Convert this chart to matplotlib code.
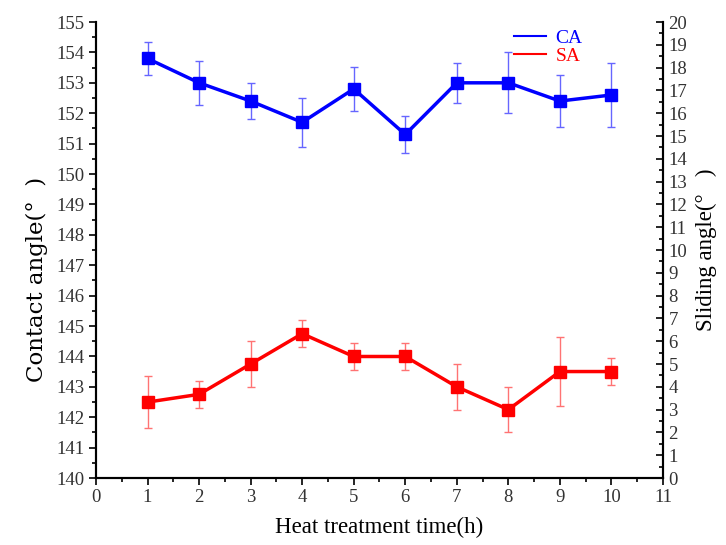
import matplotlib
matplotlib.use('Agg')
import matplotlib.pyplot as plt
from matplotlib.ticker import MultipleLocator

# Data
hours = [1, 2, 3, 4, 5, 6, 7, 8, 9, 10]
ca = [153.8, 153.0, 152.4, 151.7, 152.8, 151.3, 153.0, 153.0, 152.4, 152.6]
ca_err = [0.53, 0.73, 0.6, 0.8, 0.72, 0.6, 0.65, 1.0, 0.86, 1.06]
sa = [3.33, 3.67, 5.0, 6.33, 5.33, 5.33, 4.0, 3.0, 4.67, 4.67]
sa_err = [1.15, 0.58, 1.0, 0.58, 0.58, 0.58, 1.0, 1.0, 1.53, 0.58]

plt.rcParams['font.family'] = ['Liberation Serif', 'DejaVu Serif']

fig = plt.figure(figsize=(7.26, 5.45), dpi=100)
ax = fig.add_axes([0.1322, 0.1229, 0.7810, 0.8367])
ax2 = ax.twinx()

# Contact angle on left axis
ax.errorbar(hours, ca, yerr=ca_err, fmt='none', ecolor=(0.4, 0.4, 1.0),
            elinewidth=1, capsize=3, capthick=1, zorder=2)
ca_line, = ax.plot(hours, ca, color='#0000ff', lw=2.5, marker='s',
                   markersize=8, zorder=3)

# Sliding angle on right axis
ax2.errorbar(hours, sa, yerr=sa_err, fmt='none', ecolor=(1.0, 0.45, 0.45),
             elinewidth=1, capsize=3, capthick=1, zorder=2)
sa_line, = ax2.plot(hours, sa, color='#ff0000', lw=2.5, marker='s',
                    markersize=8, zorder=3)

ax.set_xlim(0, 11)
ax.set_ylim(140, 155)
ax2.set_ylim(0, 20)

ax.xaxis.set_major_locator(MultipleLocator(1))
ax.xaxis.set_minor_locator(MultipleLocator(0.5))
ax.yaxis.set_major_locator(MultipleLocator(1))
ax.yaxis.set_minor_locator(MultipleLocator(0.5))
ax2.yaxis.set_major_locator(MultipleLocator(1))
ax2.yaxis.set_minor_locator(MultipleLocator(0.5))

ax.tick_params(axis='both', which='major', direction='out', length=5, width=1.2,
               labelsize=13.5, colors='black', labelcolor='#333333', pad=3)
ax.tick_params(axis='both', which='minor', direction='out', length=3, width=1.2)
ax.tick_params(axis='x', which='both', top=False)
ax2.tick_params(axis='y', which='major', direction='in', length=5, width=1.2,
                labelsize=13.5, labelcolor='#333333', pad=4)
ax2.tick_params(axis='y', which='minor', direction='in', length=3, width=1.2)

for a in (ax, ax2):
    a.spines['top'].set_visible(False)
    for s in ('left', 'right', 'bottom'):
        a.spines[s].set_linewidth(1.5)

ax.set_xlabel('Heat treatment time(h)', fontsize=16.5, labelpad=8)
ax.set_ylabel('Contact angle(°  )', fontsize=16.5, labelpad=6,
              family=['DejaVu Serif'])
ax.yaxis.label.set_y(0.435)
ax2.set_ylabel('Sliding angle(°   )', fontsize=16.5, labelpad=6)

leg = ax.legend([ca_line, sa_line], ['CA', 'SA'], loc='upper left',
                bbox_to_anchor=(0.706, 1.022), frameon=False, fontsize=14,
                handlelength=1.65, handletextpad=0.5, labelspacing=0.0)
for h in leg.legend_handles:
    h.set_marker('')
    h.set_linewidth(1.5)
for t, c in zip(leg.get_texts(), ['#0000ff', '#ff0000']):
    t.set_color(c)

plt.savefig('out.png', dpi=100)
